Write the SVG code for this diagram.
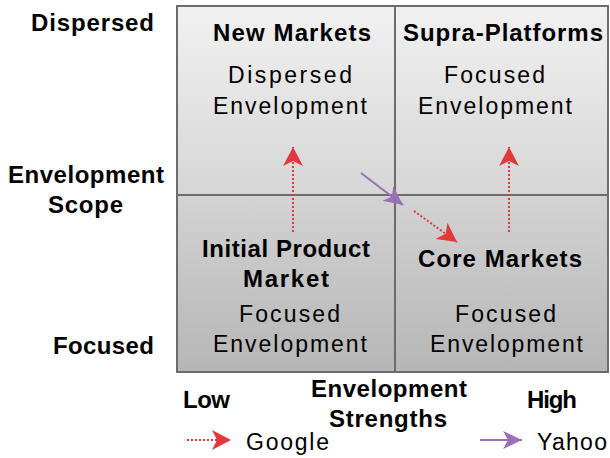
<svg xmlns="http://www.w3.org/2000/svg" width="610" height="458" viewBox="0 0 610 458">
  <defs>
    <linearGradient id="gTop" x1="0" y1="0" x2="0" y2="1">
      <stop offset="0" stop-color="#f1f1f1"/>
      <stop offset="1" stop-color="#d6d6d6"/>
    </linearGradient>
    <linearGradient id="gBot" x1="0" y1="0" x2="0" y2="1">
      <stop offset="0" stop-color="#d3d3d3"/>
      <stop offset="1" stop-color="#b6b6b6"/>
    </linearGradient>
    <marker id="headRed" markerUnits="userSpaceOnUse" markerWidth="20" markerHeight="20" viewBox="0 0 20 20" refX="19" refY="10" orient="auto">
      <path d="M0,0 L19,10 L0,20 L5,10 z" fill="#e0393c"/>
    </marker>
    <marker id="headPurple" markerUnits="userSpaceOnUse" markerWidth="20" markerHeight="20" viewBox="0 0 20 20" refX="19" refY="10" orient="auto">
      <path d="M0,1 L19,10 L0,19 L5,10 z" fill="#9a70b4"/>
    </marker>
    <style>
      .lbl { font-family: "Liberation Sans", Arial, sans-serif; fill: #000; }
      .b { font-weight: bold; font-size: 24px; }
      .n { font-size: 23px; }
      .quad { stroke: #6c6c6c; stroke-width: 2; }
      .google { stroke: #e0393c; stroke-width: 2; stroke-dasharray: 2 2; fill: none; marker-end: url(#headRed); }
      .yahoo { stroke: #9a70b4; stroke-width: 2; fill: none; marker-end: url(#headPurple); }
    </style>
  </defs>

  <!-- quadrants -->
  <g id="q-new-markets">
    <rect class="quad" x="177" y="6" width="218" height="189" fill="url(#gTop)"/>
    <text class="lbl b" x="213" y="41" textLength="158" lengthAdjust="spacing">New Markets</text>
    <text class="lbl n" x="228" y="83" textLength="124" lengthAdjust="spacing">Dispersed</text>
    <text class="lbl n" x="213" y="114" textLength="154" lengthAdjust="spacing">Envelopment</text>
  </g>
  <g id="q-supra-platforms">
    <rect class="quad" x="395" y="6" width="213" height="189" fill="url(#gTop)"/>
    <text class="lbl b" x="403" y="41" textLength="200" lengthAdjust="spacing">Supra-Platforms</text>
    <text class="lbl n" x="444" y="83" textLength="101" lengthAdjust="spacing">Focused</text>
    <text class="lbl n" x="418" y="114" textLength="154" lengthAdjust="spacing">Envelopment</text>
  </g>
  <g id="q-initial-product">
    <rect class="quad" x="177" y="195" width="218" height="177" fill="url(#gBot)"/>
    <text class="lbl b" x="202" y="257" textLength="168" lengthAdjust="spacing">Initial Product</text>
    <text class="lbl b" x="243" y="287" textLength="86" lengthAdjust="spacing">Market</text>
    <text class="lbl n" x="239" y="322" textLength="101" lengthAdjust="spacing">Focused</text>
    <text class="lbl n" x="213" y="352" textLength="154" lengthAdjust="spacing">Envelopment</text>
  </g>
  <g id="q-core-markets">
    <rect class="quad" x="395" y="195" width="213" height="177" fill="url(#gBot)"/>
    <text class="lbl b" x="418" y="267" textLength="164" lengthAdjust="spacing">Core Markets</text>
    <text class="lbl n" x="455" y="322" textLength="101" lengthAdjust="spacing">Focused</text>
    <text class="lbl n" x="430" y="352" textLength="153" lengthAdjust="spacing">Envelopment</text>
  </g>

  <!-- axis labels -->
  <g id="axis-scope">
    <text class="lbl b" x="31" y="31" textLength="123" lengthAdjust="spacing">Dispersed</text>
    <text class="lbl b" x="8" y="183" textLength="156" lengthAdjust="spacing">Envelopment</text>
    <text class="lbl b" x="48" y="213" textLength="75" lengthAdjust="spacing">Scope</text>
    <text class="lbl b" x="53" y="354" textLength="101" lengthAdjust="spacing">Focused</text>
  </g>
  <g id="axis-strengths">
    <text class="lbl b" x="183" y="408" textLength="47" lengthAdjust="spacing">Low</text>
    <text class="lbl b" x="311" y="397" textLength="156" lengthAdjust="spacing">Envelopment</text>
    <text class="lbl b" x="329" y="427" textLength="118" lengthAdjust="spacing">Strengths</text>
    <text class="lbl b" x="527" y="408" textLength="50" lengthAdjust="spacing">High</text>
  </g>

  <!-- movement paths -->
  <g id="connectors">
    <path class="google" d="M293,232 L293,147"/>
    <path class="google" d="M509,232 L509,147"/>
    <path class="google" d="M414,211 L457,242"/>
    <path class="yahoo" d="M361,173 L403,205"/>
  </g>

  <!-- legend -->
  <g id="legend">
    <path class="google" d="M187,440 L231,440"/>
    <text class="lbl n" x="246" y="450" textLength="83" lengthAdjust="spacing">Google</text>
    <path class="yahoo" d="M480,440 L522,440"/>
    <text class="lbl n" x="537" y="450" textLength="70" lengthAdjust="spacing">Yahoo</text>
  </g>
</svg>
